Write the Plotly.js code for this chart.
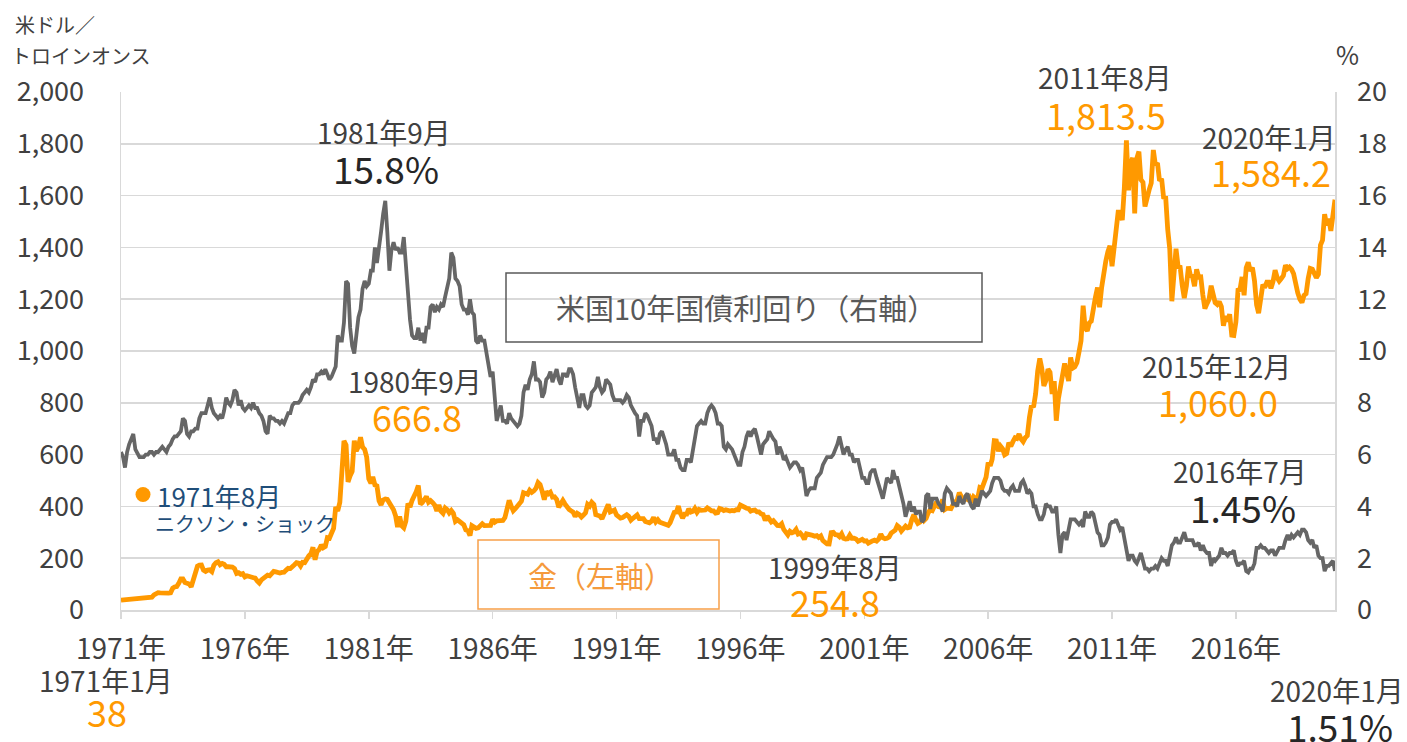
<!DOCTYPE html>
<html>
<head>
<meta charset="utf-8">
<script src="https://cdn.plot.ly/plotly-3.0.1.min.js"></script>
<style>
html,body{margin:0;padding:0;background:#fff;}
#chart{width:1407px;height:742px;}
</style>
</head>
<body>
<div id="chart"></div>
<script>
// ---- data (month-end values, Jan 1971 .. Jan 2020) ----
const startYear = 1971;
// Gold, USD per troy ounce (left axis)
const gold = [
38.0,38.9,38.9,39.8,40.6,40.1,41.0,42.4,42.4,42.9,43.0,43.6,
46.1,48.0,48.3,49.8,58.3,65.1,67.0,66.3,65.0,64.8,62.9,64.9,
66.4,84.0,88.8,90.6,102.5,120.0,120.0,106.0,103.0,100.0,90.0,112.3,
137.0,169.0,173.0,173.5,154.0,149.0,154.0,155.0,148.0,173.0,183.0,186.5,
175.0,180.0,177.0,167.0,167.0,166.0,166.0,160.0,141.0,144.0,138.0,140.3,
128.0,132.0,129.0,127.0,126.0,123.0,112.0,104.0,116.0,123.0,130.0,134.5,
132.0,142.0,149.0,147.0,143.0,143.0,145.0,146.0,154.0,161.0,160.0,164.9,
175.0,183.0,181.0,170.0,184.0,183.0,200.0,209.0,217.0,242.0,194.0,226.0,
233.7,251.3,240.1,245.3,279.5,277.5,296.5,315.1,397.3,382.0,415.7,512.0,
653.0,637.0,494.5,518.0,535.5,653.5,614.3,631.3,666.8,629.0,619.8,589.8,
506.5,489.0,513.8,482.8,479.3,422.0,406.0,425.0,428.8,427.0,414.5,397.5,
387.0,362.5,320.0,361.3,325.3,317.5,342.9,411.5,397.0,423.3,436.0,456.9,
481.0,408.5,414.8,429.3,437.5,416.0,422.0,414.3,405.0,382.0,405.0,381.5,
373,394,388,375,384,373,342,348,341,333,329,309,
306,287,326,321,315,317,327,333,326,326,325,327,
350,339,344,345,343,346,357,384,423,402,383,391,
400,406,420,453,451,447,462,454,460,470,492,484,
458,426,457,449,455,436,437,427,397,413,423,410,
394,388,383,378,361,373,368,359,367,375,408,401,
416,408,368,367,363,352,372,387,408,379,384,386,
367,362,355,357,362,368,362,347,354,358,367,353,
354,353,342,337,337,343,357,340,349,339,334,333,
330,327,337,355,377,378,401,372,355,370,370,391,
378,381,392,377,388,385,384,386,394,388,383,383,
374,376,392,389,384,387,383,382,384,383,387,387,
405,400,396,393,391,382,385,386,379,379,371,369,
346,363,352,340,345,334,326,325,333,311,296,290,
304,298,301,311,293,297,288,273,294,292,294,288,
285,287,280,286,268,262,255,254.8,299,300,291,290,
283,294,277,274,275,289,277,277,274,265,270,273,
266,267,258,264,267,270,266,274,293,279,275,277,
282,297,302,308,326,319,305,312,324,317,319,348,
368,347,334,339,361,346,354,375,388,384,398,417,
399,397,427,388,393,394,391,407,416,425,453,435,
422,435,428,435,414,437,430,433,473,470,495,513,
569,557,582,654,653,613,633,623,599,604,646,632,
650,665,662,679,660,650,665,673,743,790,783,834,
923,971,934,865,886,930,918,834,884,731,815,870,
920,952,917,884,975,934,939,955,996,1040,1175,1088,
1078,1109,1115,1180,1208,1245,1169,1246,1307,1347,1384,1406,
1327,1411,1439,1536,1536,1505,1628,1813.5,1620,1725,1746,1531,
1744,1770,1662,1651,1558,1598,1622,1648,1776,1719,1726,1657,
1665,1588,1598,1469,1394,1192,1314,1395,1326,1324,1253,1204,
1251,1326,1292,1288,1250,1315,1285,1286,1216,1164,1183,1199,
1252,1214,1187,1180,1191,1171,1098,1135,1114,1142,1061,1060.0,
1112,1235,1237,1286,1215,1321,1342,1309,1322,1272,1178,1146,
1213,1256,1245,1266,1266,1242,1268,1312,1283,1270,1280,1291,
1331,1318,1324,1315,1298,1250,1224,1200,1187,1215,1221,1279,
1319,1316,1295,1283,1296,1409,1428,1528,1485,1511,1464,1515,
1584.2
];
// US 10-year Treasury yield, % (right axis)
const yield10y = [
6.1,5.9,5.5,6.1,6.4,6.6,6.8,6.2,6.0,5.9,5.9,5.9,
6.0,6.0,6.1,6.1,6.0,6.1,6.1,6.2,6.3,6.2,6.1,6.3,
6.4,6.6,6.7,6.7,6.8,6.9,7.4,7.3,6.8,6.7,6.9,6.9,
7.0,7.0,7.4,7.6,7.6,7.6,7.9,8.2,7.8,7.6,7.5,7.4,
7.5,7.4,7.7,8.2,8.0,7.9,8.1,8.5,8.4,7.9,8.1,7.8,
7.7,7.8,7.9,7.8,8.0,7.8,7.8,7.6,7.5,7.3,6.9,6.8,
7.5,7.4,7.4,7.3,7.3,7.2,7.3,7.2,7.4,7.6,7.6,7.9,
8.0,8.0,8.0,8.1,8.3,8.4,8.5,8.4,8.6,8.9,8.8,9.1,
9.1,9.2,9.1,9.3,9.1,8.9,9.0,9.2,9.4,10.6,10.4,10.4,
11.1,12.7,12.6,10.9,10.2,9.9,10.5,11.3,11.6,12.4,12.7,12.5,
12.6,13.1,13.1,14.0,13.4,13.9,14.6,15.3,15.8,14.6,13.1,13.9,
14.2,13.9,14.0,13.8,13.8,14.4,13.3,12.3,11.2,10.6,10.5,10.5,
10.9,10.4,10.7,10.3,10.9,10.9,11.7,11.8,11.5,11.7,11.6,11.8,
11.7,12.1,12.5,12.8,13.8,13.6,12.8,12.7,12.5,11.8,11.6,11.6,
11.4,12.0,11.5,11.4,10.4,10.3,10.6,10.4,10.4,10.0,9.5,9.0,
9.2,8.1,7.3,7.6,7.9,7.3,7.3,7.2,7.6,7.4,7.3,7.2,
7.1,7.2,7.5,8.4,8.7,8.5,8.9,9.1,9.6,8.9,8.9,8.8,
8.2,8.4,8.9,9.0,9.2,8.8,9.1,9.3,8.9,8.7,9.1,9.1,
9.0,9.3,9.3,9.1,8.6,8.1,7.8,8.3,8.3,7.9,7.8,7.9,
8.4,8.5,8.6,9.0,8.6,8.4,8.5,8.9,8.8,8.7,8.3,8.1,
8.1,8.1,8.1,8.0,8.1,8.3,8.2,7.9,7.7,7.6,7.5,6.7,
7.3,7.3,7.6,7.5,7.3,7.1,6.6,6.6,6.4,6.8,6.9,6.7,
6.4,6.0,6.0,6.0,6.2,5.8,5.8,5.5,5.4,5.4,5.8,5.8,
5.7,6.2,6.8,7.1,7.2,7.3,7.2,7.2,7.6,7.8,7.9,7.8,
7.6,7.2,7.2,7.1,6.3,6.2,6.4,6.3,6.2,6.0,5.8,5.6,
5.6,6.1,6.3,6.7,6.9,6.7,6.9,7.0,6.7,6.3,6.0,6.4,
6.5,6.6,6.9,6.7,6.6,6.5,6.0,6.3,6.1,5.8,5.9,5.7,
5.5,5.6,5.7,5.7,5.6,5.4,5.5,5.0,4.4,4.6,4.7,4.7,
4.7,5.1,5.2,5.3,5.6,5.8,5.9,5.9,5.9,6.0,6.2,6.4,
6.7,6.4,6.0,6.2,6.3,6.0,6.0,5.7,5.8,5.8,5.5,5.1,
5.1,4.9,4.9,5.3,5.4,5.4,5.1,4.8,4.6,4.3,4.7,5.1,
5.0,4.9,5.4,5.1,5.1,4.8,4.5,4.1,3.6,3.9,4.2,3.8,
4.0,3.7,3.8,3.8,3.4,3.5,4.4,4.5,3.9,4.3,4.3,4.3,
4.1,4.0,3.8,4.5,4.7,4.6,4.5,4.1,4.1,4.0,4.4,4.2,
4.1,4.4,4.5,4.2,4.0,3.9,4.3,4.0,4.3,4.6,4.5,4.4,
4.5,4.6,4.9,5.1,5.1,5.1,5.0,4.7,4.6,4.6,4.5,4.7,
4.8,4.6,4.6,4.6,4.9,5.0,4.8,4.5,4.6,4.5,4.0,4.0,
3.7,3.5,3.5,3.7,4.1,4.0,4.0,3.8,3.8,4.0,2.9,2.2,
2.9,3.0,2.7,3.2,3.5,3.5,3.5,3.4,3.3,3.4,3.2,3.8,
3.6,3.6,3.8,3.7,3.3,3.0,2.9,2.5,2.5,2.6,2.8,3.3,
3.4,3.4,3.5,3.3,3.1,3.2,2.8,2.2,1.9,2.1,2.1,1.9,
1.8,2.0,2.2,1.9,1.6,1.6,1.5,1.6,1.6,1.7,1.6,1.8,
2.0,1.9,1.9,1.7,2.1,2.5,2.6,2.8,2.6,2.6,2.8,3.0,
2.7,2.7,2.7,2.7,2.5,2.5,2.6,2.3,2.5,2.3,2.2,2.2,
1.7,2.0,1.9,2.0,2.1,2.4,2.2,2.2,2.1,2.2,2.2,2.3,
1.9,1.7,1.8,1.8,1.9,1.5,1.45,1.6,1.6,1.8,2.4,2.4,
2.5,2.4,2.4,2.3,2.2,2.3,2.3,2.1,2.3,2.4,2.4,2.4,
2.7,2.9,2.7,2.9,2.8,2.9,3.0,2.9,3.1,3.1,3.0,2.7,
2.6,2.7,2.4,2.5,2.1,2.0,2.0,1.5,1.7,1.7,1.8,1.9,
1.51
];
const tickYears = [1971,1976,1981,1986,1991,1996,2001,2006,2011,2016];
const tickLabels = tickYears.map(y => y + '年');

// monthly date categories
const months = gold.map((_, i) => {
  const y = startYear + Math.floor(i / 12);
  const m = (i % 12) + 1;
  return y + '-' + String(m).padStart(2, '0') + '-01';
});

// ---- layout helpers (pixel -> paper) ----
const W = 1407, H = 742;
const M = {l: 121, r: 72, t: 92, b: 132};
const PW = W - M.l - M.r, PH = H - M.t - M.b;
const px = x => (x - M.l) / PW;
const py = y => (H - M.b - y) / PH;

const FONT = '"Noto Sans CJK JP", "Noto Sans", sans-serif';
const ORANGE = '#FF9900';
const GRAY = '#666666';
const TXT = '#404040';

const traces = [
  {x: months, y: gold, type: 'scatter', mode: 'lines', name: '金(左軸)',
   line: {color: ORANGE, width: 4.8}, yaxis: 'y'},
  {x: months, y: yield10y, type: 'scatter', mode: 'lines', name: '米国10年国債利回り(右軸)',
   line: {color: GRAY, width: 3.8}, yaxis: 'y2'}
];

function ann(text, cx, cy, size, color, extra) {
  return Object.assign({text: text, x: px(cx), y: py(cy), xref: 'paper', yref: 'paper',
    xanchor: 'center', yanchor: 'middle', showarrow: false,
    font: {family: FONT, size: size, color: color}}, extra || {});
}

const DS = 28; // date label size
const annotations = [
  ann('米ドル／', 13, 24, 20, TXT, {xanchor: 'left'}),
  ann('トロインオンス', 9, 55, 20, TXT, {xanchor: 'left'}),
  ann('%', 1347, 54, 25, TXT),
  ann('1981年9月', 384, 132, DS, TXT),
  ann('15.8%', 386, 168, 37, '#262626'),
  ann('1980年9月', 415, 381, DS, TXT),
  ann('666.8', 417, 416, 36, ORANGE),
  ann('1971年8月', 155, 495, 26, '#1F4E79', {xanchor: 'left'}),
  ann('ニクソン・ショック', 153, 523, 20, '#1F4E79', {xanchor: 'left'}),
  ann('1999年8月', 835, 567, DS, TXT),
  ann('254.8', 835, 601, 36, ORANGE),
  ann('2011年8月', 1105, 77, DS, TXT),
  ann('1,813.5', 1106, 114, 36, ORANGE),
  ann('2020年1月', 1269, 137, DS, TXT),
  ann('1,584.2', 1271, 171, 36, ORANGE),
  ann('2015年12月', 1216, 366, DS, TXT),
  ann('1,060.0', 1218, 401, 36, ORANGE),
  ann('2016年7月', 1240, 471, DS, TXT),
  ann('1.45%', 1243, 507, 37, '#262626'),
  ann('1971年1月', 106, 680, DS, TXT),
  ann('38', 107, 711, 36, ORANGE),
  ann('2020年1月', 1337, 690, DS, TXT),
  ann('1.51%', 1340, 726, 37, '#262626'),
  ann('米国10年国債利回り（右軸）', 746, 307, 29, '#595959'),
  ann('金（左軸）', 600, 575, 29, '#F59A3C')
];

const shapes = [
  {type: 'rect', xref: 'paper', yref: 'paper', x0: px(506), x1: px(982), y0: py(342), y1: py(273),
   line: {color: '#595959', width: 1.5}, fillcolor: 'rgba(255,255,255,0)'},
  {type: 'rect', xref: 'paper', yref: 'paper', x0: px(478), x1: px(719), y0: py(609), y1: py(540),
   line: {color: '#F7A04A', width: 1.5}, fillcolor: 'rgba(255,255,255,0)'},
  {type: 'circle', xref: 'paper', yref: 'paper', x0: px(135.5), x1: px(150.5), y0: py(502), y1: py(487),
   line: {color: ORANGE, width: 0}, fillcolor: ORANGE}
];

const layout = {
  width: W, height: H,
  margin: M,
  paper_bgcolor: '#ffffff', plot_bgcolor: '#ffffff',
  showlegend: false,
  font: {family: FONT, color: TXT},
  xaxis: {
    type: 'date', range: [months[0], months[months.length - 1]],
    tickmode: 'array', tickvals: tickYears.map(y => y + '-01-01'), ticktext: tickLabels,
    ticks: 'outside', ticklen: 7, tickcolor: '#D9D9D9', tickwidth: 1.5,
    showline: true, linecolor: '#D9D9D9', linewidth: 1.5,
    showgrid: false, zeroline: false, ticklabelstandoff: 7,
    tickfont: {family: FONT, size: 28, color: TXT}
  },
  yaxis: {
    range: [0, 2000], dtick: 200, tickformat: ',d',
    showgrid: true, gridcolor: '#D9D9D9', gridwidth: 1.5,
    showline: true, linecolor: '#D9D9D9', linewidth: 1.5, zeroline: false,
    ticks: '', ticklabelstandoff: 30,
    tickfont: {family: FONT, size: 27, color: TXT}
  },
  yaxis2: {
    range: [0, 20], dtick: 2, overlaying: 'y', side: 'right',
    showgrid: false, showline: true, linecolor: '#D9D9D9', linewidth: 1.5, zeroline: false,
    ticks: '', ticklabelstandoff: 15,
    tickfont: {family: FONT, size: 27, color: TXT}
  },
  annotations: annotations,
  shapes: shapes
};

Plotly.newPlot('chart', traces, layout, {displayModeBar: false, staticPlot: true});
</script>
</body>
</html>
